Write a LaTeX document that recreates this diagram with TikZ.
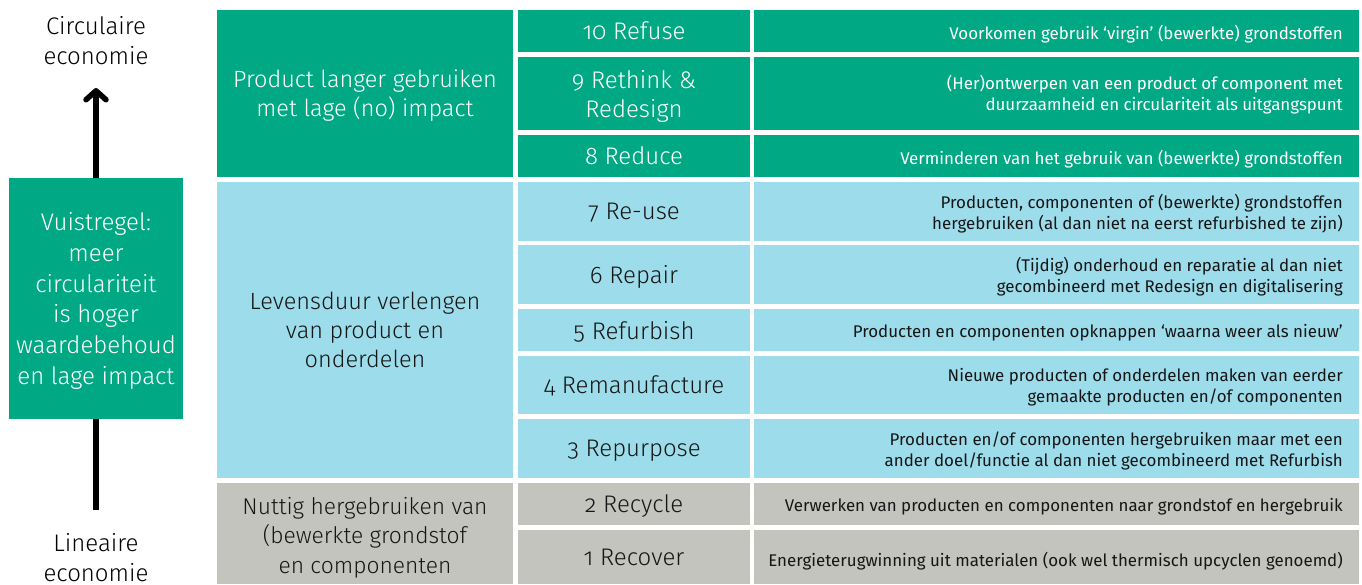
\documentclass[tikz,border=0pt]{standalone}
\usepackage{fontspec}
\setmainfont{Fira Sans Light}[Numbers=OldStyle]
\newfontfamily\regfont{Fira Sans}[Numbers=OldStyle]
\usetikzlibrary{arrows.meta}
\definecolor{cgreen}{RGB}{0,168,132}
\definecolor{cblue}{RGB}{157,221,235}
\definecolor{cgray}{RGB}{196,196,190}
\definecolor{ctext}{RGB}{22,22,22}
\newcommand{\bigfont}{\fontsize{24}{30}\selectfont}
\newcommand{\grpfont}{\fontsize{23.5}{29}\selectfont}
\newcommand{\lblfont}{\fontsize{24}{29}\selectfont}
\newcommand{\dscfont}{\regfont\fontsize{16.9}{21}\selectfont}
\tikzset{
  cellbase/.style={anchor=north west, inner sep=0pt, outer sep=0pt, draw=none},
  fillgreen/.style={cellbase, fill=cgreen, text=white},
  fillblue/.style={cellbase, fill=cblue, text=ctext},
  fillgray/.style={cellbase, fill=cgray, text=ctext},
  grp/.style={minimum width=296pt, align=center, font=\grpfont, text depth=0pt},
  lbl/.style={minimum width=232pt, align=center, font=\lblfont, text depth=0pt},
  dcell/.style={minimum width=605pt},
  dsc/.style={anchor=east, inner sep=0pt, align=right, font=\dscfont},
  dscw/.style={dsc, text=white},
  dscd/.style={dsc, text=ctext},
  axis/.style={line width=5.5pt, draw=black},
  sidetext/.style={font=\bigfont, align=center, text=black, inner sep=0pt},
}
\begin{document}
\begin{tikzpicture}[x=1pt,y=-1pt]
\useasboundingbox (0,0) rectangle (1362,584);
% group column
\node[fillgreen, grp, minimum height=167pt] (g1) at (217,10) {Product langer gebruiken\\met lage (no) impact};
\node[fillblue, grp, minimum height=296pt] (g2) at (217,182) {Levensduur verlengen\\van product en\\onderdelen};
\node[fillgray, grp, minimum height=101pt] (g3) at (217,483) {};
\node[text=ctext, align=center, inner sep=0pt, font=\fontsize{22.8}{29.5}\selectfont] (g3t) at ([yshift=-4pt]g3.center) {Nuttig hergebruiken van\\(bewerkte grondstof\\en componenten};
% label column
\node[fillgreen, lbl, minimum height=42pt] (l10) at (518,10) {10 Refuse};
\node[fillgreen, lbl, minimum height=73pt] (l9) at (518,57) {9 Rethink \&\\Redesign};
\node[fillgreen, lbl, minimum height=42pt] (l8) at (518,135) {8 Reduce};
\node[fillblue, lbl, minimum height=59pt] (l7) at (518,182) {7 Re-use};
\node[fillblue, lbl, minimum height=59pt] (l6) at (518,245) {6 Repair};
\node[fillblue, lbl, minimum height=42pt] (l5) at (518,309) {5 Refurbish};
\node[fillblue, lbl, minimum height=58pt] (l4) at (518,356) {4 Remanufacture};
\node[fillblue, lbl, minimum height=59pt] (l3) at (518,419) {3 Repurpose};
\node[fillgray, lbl, minimum height=42pt] (l2) at (518,483) {2 Recycle};
\node[fillgray, lbl, minimum height=54pt] (l1) at (518,530) {1 Recover};
% description column: cells
\node[fillgreen, dcell, minimum height=42pt] (c10) at (754,10) {};
\node[fillgreen, dcell, minimum height=73pt] (c9) at (754,57) {};
\node[fillgreen, dcell, minimum height=42pt] (c8) at (754,135) {};
\node[fillblue, dcell, minimum height=59pt] (c7) at (754,182) {};
\node[fillblue, dcell, minimum height=59pt] (c6) at (754,245) {};
\node[fillblue, dcell, minimum height=42pt] (c5) at (754,309) {};
\node[fillblue, dcell, minimum height=58pt] (c4) at (754,356) {};
\node[fillblue, dcell, minimum height=59pt] (c3) at (754,419) {};
\node[fillgray, dcell, minimum height=42pt] (c2) at (754,483) {};
\node[fillgray, dcell, minimum height=54pt] (c1) at (754,530) {};
% description column: texts
\node[dscw] (d10) at ([xshift=-16pt,yshift=-3.5pt]c10.east) {Voorkomen gebruik ‘virgin’ (bewerkte) grondstoffen};
\node[dscw] (d9) at ([xshift=-16pt,yshift=-1.5pt]c9.east) {(Her)ontwerpen van een product of component met\\duurzaamheid en circulariteit als uitgangspunt};
\node[dscw] (d8) at ([xshift=-16pt,yshift=-3pt]c8.east) {Verminderen van het gebruik van (bewerkte) grondstoffen};
\node[dscd] (d7) at ([xshift=-16pt,yshift=-2pt]c7.east) {Producten, componenten of (bewerkte) grondstoffen\\hergebruiken (al dan niet na eerst refurbished te zijn)};
\node[dscd] (d6) at ([xshift=-16pt,yshift=-2pt]c6.east) {(Tijdig) onderhoud en reparatie al dan niet\\gecombineerd met Redesign en digitalisering};
\node[dscd] (d5) at ([xshift=-16pt,yshift=-3pt]c5.east) {Producten en componenten opknappen ‘waarna weer als nieuw’};
\node[dscd] (d4) at ([xshift=-16pt,yshift=-2pt]c4.east) {Nieuwe producten of onderdelen maken van eerder\\gemaakte producten en/of componenten};
\node[dscd] (d3) at ([xshift=-16pt,yshift=-2pt]c3.east) {Producten en/of componenten hergebruiken maar met een\\ander doel/functie al dan niet gecombineerd met Refurbish};
\node[dscd] (d2) at ([xshift=-16pt,yshift=-3pt]c2.east) {Verwerken van producten en componenten naar grondstof en hergebruik};
\node[dscd] (d1) at ([xshift=-16pt,yshift=-4pt]c1.east) {Energieterugwinning uit materialen (ook wel thermisch upcyclen genoemd)};
% left axis
\node[fillgreen, minimum width=174pt, minimum height=241pt, align=center, text depth=0pt, font=\fontsize{24}{30.7}\selectfont] (rule) at (9,178) {Vuistregel:\\meer\\circulariteit\\is hoger\\waardebehoud\\en lage impact};
\node[sidetext] (circ) at (96,41) {Circulaire\\economie};
\node[sidetext] (lin) at (96,558) {Lineaire\\economie};
\coordinate (atop) at (96,88);
\coordinate (abot) at (96,510);
\draw[axis, -{Straight Barb[length=9pt, width=20pt, line cap=round, line join=round]}] (rule.north) -- (atop);
\draw[axis] (rule.south) -- (abot);
\end{tikzpicture}
\end{document}
